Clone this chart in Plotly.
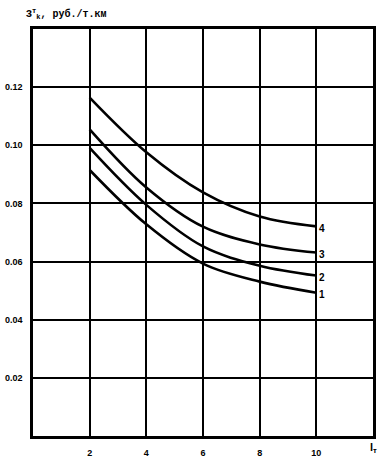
import plotly.graph_objects as go

x_vals = [2, 4, 6, 8, 10]
curve1 = [0.0915, 0.0728, 0.0593, 0.0531, 0.0493]
curve2 = [0.0991, 0.0795, 0.0652, 0.0586, 0.0552]
curve3 = [0.1055, 0.0855, 0.0720, 0.0659, 0.0631]
curve4 = [0.1164, 0.0976, 0.0838, 0.0755, 0.0721]
curve_labels = ["1", "2", "3", "4"]
x_ticks = [2, 4, 6, 8, 10]
y_ticks = [0.02, 0.04, 0.06, 0.08, 0.10, 0.12]
y_tick_text = ["0.02", "0.04", "0.06", "0.08", "0.10", "0.12"]

font_family = "Liberation Sans"
fig = go.Figure()
for ys in [curve1, curve2, curve3, curve4]:
    fig.add_trace(go.Scatter(x=x_vals, y=ys, mode="lines",
                             line=dict(color="black", width=2.6, shape="spline", smoothing=1.0),
                             showlegend=False, hoverinfo="skip"))

for lab, ys in zip(curve_labels, [curve1, curve2, curve3, curve4]):
    fig.add_annotation(x=x_vals[-1], y=ys[-1], text=lab, showarrow=False,
                       xanchor="left", yanchor="middle", xshift=1, yshift=-2,
                       font=dict(family=font_family, size=10, color="black", weight="bold"))

fig.add_annotation(xref="paper", yref="paper", x=0.0, y=1.0, xshift=-9, yshift=6,
                   text="З<sup>т</sup><sub>k</sub>, руб./т.км", showarrow=False,
                   xanchor="left", yanchor="bottom",
                   font=dict(family="Liberation Mono", size=10, color="black", weight="bold"))
fig.add_annotation(xref="paper", yref="paper", x=1.0, y=0.0, xshift=0, yshift=-3,
                   text="l<sub>т</sub>", showarrow=False,
                   xanchor="center", yanchor="top",
                   font=dict(family=font_family, size=11, color="black", weight="bold"))

axis_common = dict(showline=True, linecolor="black", linewidth=2.5, mirror=True,
                   showgrid=True, gridcolor="black", gridwidth=1.6, zeroline=False,
                   automargin=False, ticks="", ticklabelstandoff=6,
                   tickfont=dict(family=font_family, size=9, color="black", weight="bold"))
fig.update_xaxes(range=[0, 12], tickvals=x_ticks, ticktext=[str(v) for v in x_ticks], **axis_common)
fig.update_yaxes(range=[0, 0.14], tickvals=y_ticks, ticktext=y_tick_text, **axis_common)

fig.update_layout(width=390, height=461, margin=dict(l=33, r=17, t=29, b=25),
                  plot_bgcolor="white", paper_bgcolor="white")
fig.write_html("out.html", config={"displayModeBar": False},
               post_script="document.body.style.margin='0';")
